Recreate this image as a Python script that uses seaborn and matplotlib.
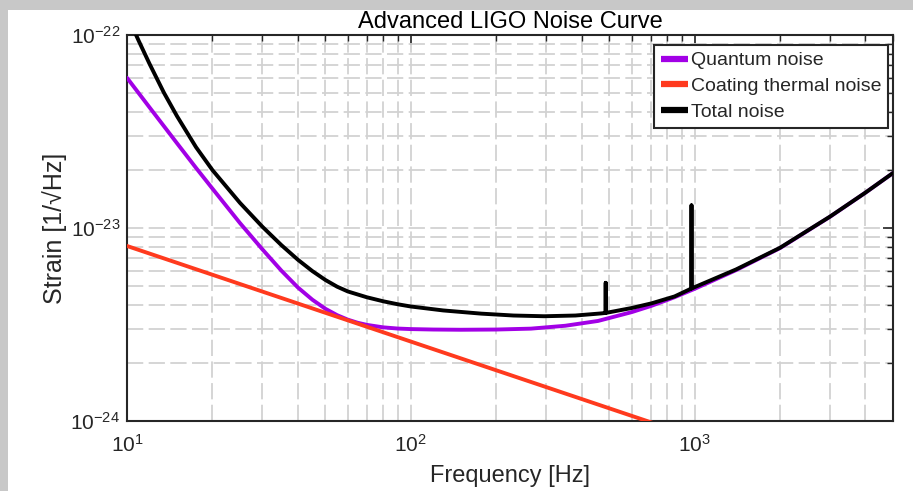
import numpy as np
import pandas as pd
import matplotlib
matplotlib.use("Agg")
import matplotlib.pyplot as plt
from matplotlib.patches import Rectangle
from matplotlib.lines import Line2D
from matplotlib.ticker import FixedLocator, FuncFormatter, LogLocator, NullFormatter
import seaborn as sns

# ---- data ----
quantum_f = [10, 12, 15, 17.5, 20, 25, 30, 35, 40, 45, 50, 55, 60, 65, 70, 80, 90, 100, 120, 150, 200,
             265, 350, 457, 600, 705, 850, 1000, 1400, 2000, 3000, 4000, 5000]
quantum_h = [6.0e-23, 4.22e-23, 2.75e-23, 2.05e-23, 1.6e-23, 1.061e-23, 7.75e-24, 6.01e-24, 4.92e-24, 4.25e-24,
             3.815e-24, 3.535e-24, 3.35e-24, 3.228e-24, 3.148e-24, 3.056e-24, 3.013e-24, 2.994e-24, 2.978e-24,
             2.97e-24, 2.978e-24, 3.01e-24, 3.115e-24, 3.30e-24, 3.665e-24, 3.953e-24, 4.38e-24, 4.84e-24,
             6.05e-24, 7.87e-24, 1.144e-23, 1.525e-23, 1.927e-23]

coating_f = [10, 100, 1000]
coating_h = [8.07e-24, 2.58e-24, 8.26e-25]

total_f = [10, 11, 12, 13.5, 15, 17.5, 20, 25, 30, 35, 40, 45, 50, 55, 60, 70, 80, 90, 100, 130, 177, 230,
           295, 380, 469, 486, 486, 486, 600, 705, 850, 975, 975, 975, 1400, 2000, 3000, 4000, 5000]
total_h = [1.27e-22, 9.32e-23, 7.1e-23, 5.015e-23, 3.8e-23, 2.625e-23, 1.996e-23, 1.35e-23, 1.015e-23, 8.15e-24,
           6.85e-24, 5.98e-24, 5.38e-24, 4.965e-24, 4.69e-24, 4.376e-24, 4.17e-24, 4.025e-24, 3.92e-24, 3.74e-24,
           3.60e-24, 3.52e-24, 3.49e-24, 3.52e-24, 3.61e-24, 3.63e-24, 5.2e-24, 3.63e-24, 3.85e-24, 4.07e-24,
           4.42e-24, 4.86e-24, 1.31e-23, 4.86e-24, 6.1e-24, 7.9e-24, 1.146e-23, 1.526e-23, 1.928e-23]

labels = ["Quantum noise", "Coating thermal noise", "Total noise"]
colors = ["#a200e6", "#ff3a1e", "#000000"]
title = "Advanced LIGO Noise Curve"
xlabel = "Frequency [Hz]"
ylabel = "Strain [1/\u221aHz]"
xticks = [10, 100, 1000]
yticks = [1e-24, 1e-23, 1e-22]

# ---- style ----
sns.set_style("white")
plt.rcParams["font.family"] = ["Liberation Sans", "DejaVu Sans"]
plt.rcParams["mathtext.fontset"] = "custom"
plt.rcParams["mathtext.rm"] = "Liberation Sans"
plt.rcParams["mathtext.default"] = "regular"
txt = "#262626"

fig = plt.figure(figsize=(9.13, 4.91), dpi=100)
fig.patch.set_facecolor("#c8c8c8")
fig.patches.append(Rectangle((8 / 913, 0), 1, 1 - 10 / 491, transform=fig.transFigure,
                             facecolor="white", edgecolor="none", zorder=-10))
ax = fig.add_axes([127 / 913, 1 - 421 / 491, (893 - 127) / 913, (421 - 35) / 491])
ax.set_facecolor("white")

df_q = pd.DataFrame({"f": quantum_f, "h": quantum_h})
df_c = pd.DataFrame({"f": coating_f, "h": coating_h})
df_t = pd.DataFrame({"f": total_f, "h": total_h})

lw = 2.8
sns.lineplot(data=df_q, x="f", y="h", ax=ax, color=colors[0], lw=lw, estimator=None, sort=False, zorder=3)
sns.lineplot(data=df_c, x="f", y="h", ax=ax, color=colors[1], lw=lw, estimator=None, sort=False, zorder=3)
sns.lineplot(data=df_t, x="f", y="h", ax=ax, color=colors[2], lw=lw, estimator=None, sort=False, zorder=4)

ax.set_xscale("log")
ax.set_yscale("log")
ax.set_xlim(10, 5000)
ax.set_ylim(1e-24, 1e-22)

def fmt(v, pos):
    e = int(round(np.log10(v)))
    return "$10^{%d}$" % e

ax.xaxis.set_major_locator(FixedLocator(xticks))
ax.yaxis.set_major_locator(FixedLocator(yticks))
ax.xaxis.set_major_formatter(FuncFormatter(fmt))
ax.yaxis.set_major_formatter(FuncFormatter(fmt))
ax.xaxis.set_minor_locator(LogLocator(base=10, subs=np.arange(2, 10)))
ax.yaxis.set_minor_locator(LogLocator(base=10, subs=np.arange(2, 10)))
ax.xaxis.set_minor_formatter(NullFormatter())
ax.yaxis.set_minor_formatter(NullFormatter())

ax.grid(True, which="both", color="#d2d2d2", linestyle=(0, (9, 3)), linewidth=1.3)
ax.set_axisbelow(True)

ax.tick_params(which="both", direction="in", top=True, right=True, colors=txt, labelsize=15)
ax.tick_params(which="major", length=7, width=1.2)
ax.tick_params(which="minor", length=4, width=1.0)
ax.tick_params(axis="x", which="major", pad=9)
ax.tick_params(axis="y", which="major", pad=5)
for s in ax.spines.values():
    s.set_color("#262626")
    s.set_linewidth(1.5)

ax.set_title(title, fontsize=17, color="black", pad=5)
ax.set_xlabel(xlabel, fontsize=17, color=txt, labelpad=7)
ax.set_ylabel(ylabel, fontsize=18, color=txt, labelpad=2)

handles = [Line2D([], [], color=c, lw=4.5, solid_capstyle="butt") for c in colors]
leg = ax.legend(handles, labels, loc="upper right", bbox_to_anchor=(0.994, 0.974), fontsize=14,
                frameon=True, fancybox=False, framealpha=1, edgecolor="#262626",
                handlelength=1.4, handletextpad=0.15, borderpad=0.35, labelspacing=0.42,
                borderaxespad=0)
leg.get_frame().set_linewidth(1.5)
for t in leg.get_texts():
    t.set_color(txt)

fig.savefig("out.png", dpi=100, facecolor=fig.get_facecolor())
